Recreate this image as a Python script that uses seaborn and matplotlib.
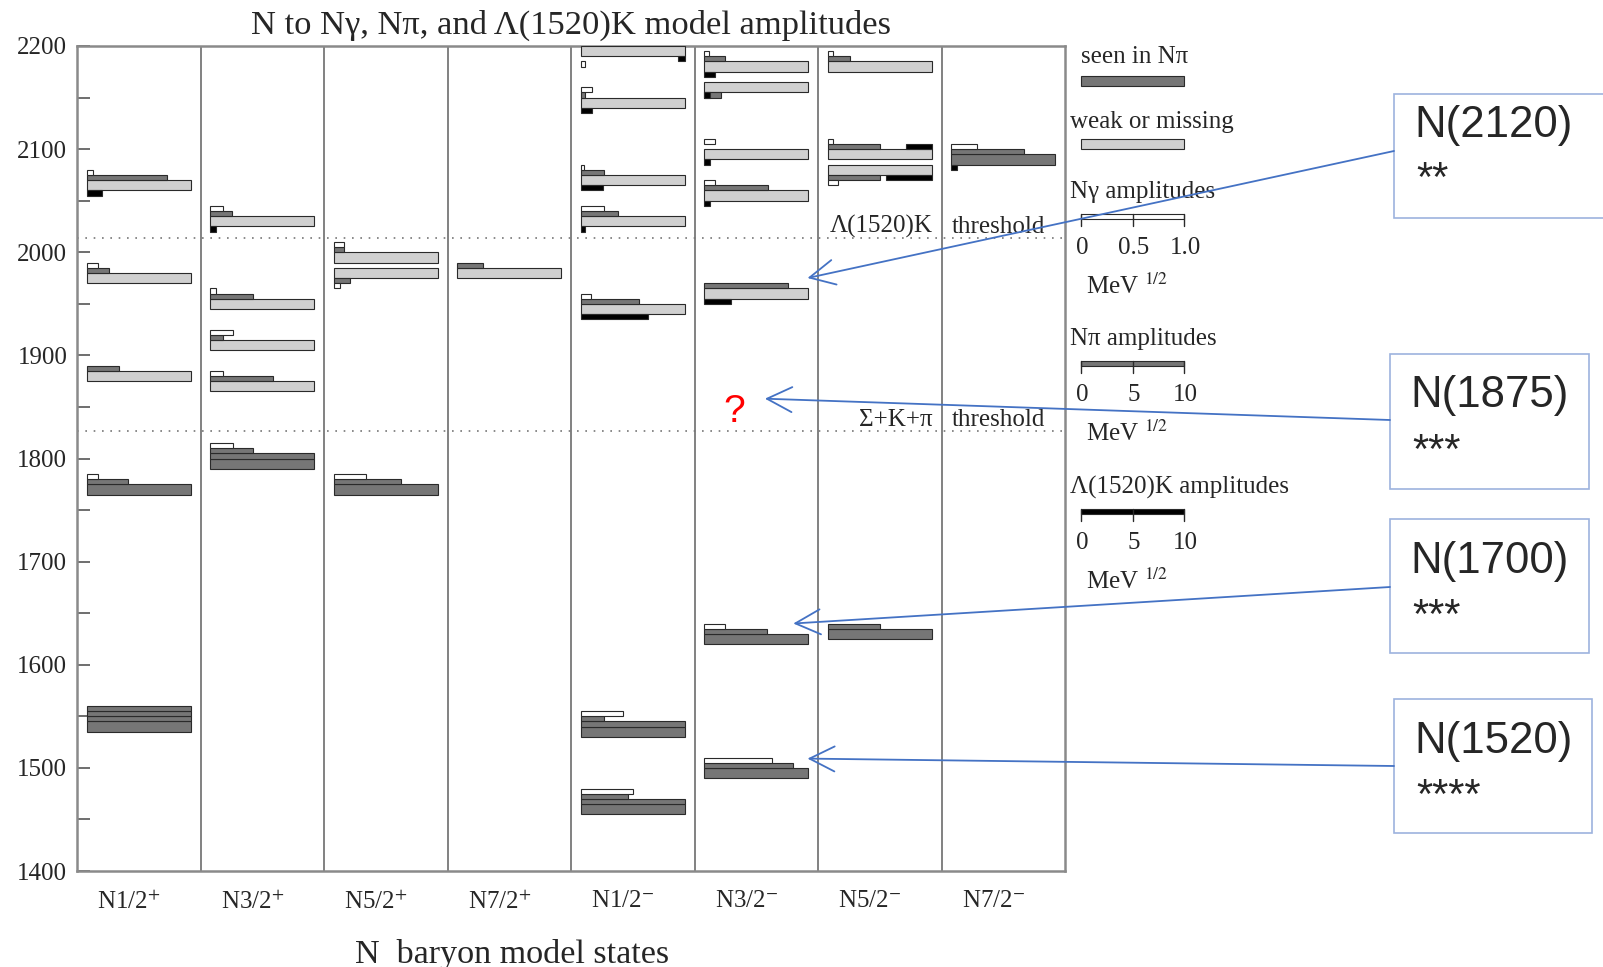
import math
import matplotlib
matplotlib.use("Agg")
import matplotlib.pyplot as plt
import numpy as np
import pandas as pd
import seaborn as sns
from matplotlib.patches import Rectangle

# ---- data -------------------------------------------------------------
columns = ["N1/2$^{+}$", "N3/2$^{+}$", "N5/2$^{+}$", "N7/2$^{+}$",
           "N1/2$^{-}$", "N3/2$^{-}$", "N5/2$^{-}$", "N7/2$^{-}$"]

# model states: column index, mass (MeV), seen in N pi?
state_col = [0, 0, 0, 0, 0,
             1, 1, 1, 1, 1,
             2, 2, 2,
             3,
             4, 4, 4, 4, 4, 4, 4,
             5, 5, 5, 5, 5, 5, 5,
             6, 6, 6, 6,
             7]
state_mass = [1540, 1770, 1880, 1975, 2065,
              1795, 1870, 1910, 1950, 2030,
              1770, 1980, 1995,
              1980,
              1460, 1535, 1945, 2030, 2070, 2145, 2195,
              1495, 1625, 1960, 2055, 2095, 2160, 2180,
              1630, 2080, 2095, 2180,
              2090]
state_seen = [1, 1, 0, 0, 0,
              1, 0, 0, 0, 0,
              1, 0, 0,
              0,
              1, 1, 0, 0, 0, 0, 0,
              1, 1, 0, 0, 0, 0, 0,
              1, 0, 0, 0,
              1]
# amplitudes (MeV^1/2)
amp_ngamma = [0, 0.11, 0, 0.11, 0.06,
              0.22, 0.12, 0.22, 0.055, 0.12,
              0.31, 0.06, 0.10,
              0,
              0.50, 0.41, 0.10, 0.22, 0.03, 0.107, 0.04,
              0.65, 0.20, 0, 0.107, 0.107, 0, 0.04,
              0, 0.10, 0.05, 0.05,
              0.25]
amp_npi = [30, 4.0, 3.1, 2.1, 7.7,
           14.1, 6.0, 1.2, 4.1, 2.1,
           6.5, 1.6, 1.0,
           2.5,
           14.5, 12.2, 5.6, 3.6, 2.2, 0.4, 0,
           8.5, 6.0, 8.1, 6.1, 0, 1.6, 2.0,
           5.0, 5.0, 5.0, 2.1,
           7.0]
amp_lk = [0, 0, 0, 0, 1.5,
          0, 0, 0, 0, 0.55,
          0, 0, 0,
          0,
          0, 0, 6.5, 0.4, 2.1, 1.07, 0.65,
          0, 0, 2.6, 0.5, 0.55, 0.5, 1.07,
          0, 4.4, 2.5, 0,
          0.55]
# where the amplitude bars are stacked (crowded states put them below)
amp_side = ["up"] * 33
for k in (11, 20, 26, 29):
    amp_side[k] = "down"
lk_place = ["below"] * 33
lk_place[20] = "right"
lk_place[26] = "left"
lk_place[29] = "right"
lk_place[30] = "right"

thresholds = [2014, 1827]
threshold_names = ["\u039b(1520)K", "\u03a3+K+\u03c0"]

# annotation boxes (labels) and the model points they refer to
ann_labels = ["N(2120)", "N(1875)", "N(1700)", "N(1520)"]
ann_stars = ["**", "***", "***", "****"]
ann_target_x = [5.915, 5.57, 5.80, 5.915]
ann_target_m = [1975, 1858, 1640, 1509]

# ---- style ------------------------------------------------------------
sns.set_theme(style="white")
plt.rcParams["font.family"] = ["Liberation Serif", "DejaVu Serif"]
plt.rcParams["mathtext.fontset"] = "stix"
SANS = ["Liberation Sans", "DejaVu Sans"]

DARK = "#767676"
LIGHT = "#d0d0d0"
EDGE = "#2a2a2a"
PAD, BAR_W, MAIN_H, ROW_H = 0.08, 0.84, 10, 5

W, H = 1603, 967
fig = plt.figure(figsize=(W / 100, H / 100), dpi=100)
ax = fig.add_axes([77 / W, 1 - 871 / H, (1065 - 77) / W, (871 - 46) / H])

# ---- build bar table --------------------------------------------------
recs = []
for i in range(len(state_mass)):
    m = state_mass[i]
    x0 = state_col[i] + PAD
    recs.append(("seen" if state_seen[i] else "weak", m, x0, BAR_W, MAIN_H))
    d = 1 if amp_side[i] == "up" else -1
    first = m + d * (MAIN_H + ROW_H) / 2
    nrow = max(1, math.ceil(amp_npi[i] / 10))
    for k in range(nrow):
        w = min(10, amp_npi[i] - 10 * k) / 10 * BAR_W
        if w > 0:
            recs.append(("npi", first + d * ROW_H * k, x0, w, ROW_H))
    if amp_lk[i] > 0:
        w = amp_lk[i] / 10 * BAR_W
        if lk_place[i] == "below":
            recs.append(("lk", m - (MAIN_H + ROW_H) / 2, x0, w, ROW_H))
        elif lk_place[i] == "right":
            recs.append(("lk", first, x0 + BAR_W - w, w, ROW_H))
        else:
            recs.append(("lk", first, x0, w, ROW_H))
    if amp_ngamma[i] > 0:
        recs.append(("ngamma", first + d * ROW_H * nrow, x0,
                     amp_ngamma[i] * BAR_W, ROW_H))
bars = pd.DataFrame(recs, columns=["kind", "y", "left", "width", "height"])

colors = {"seen": DARK, "weak": LIGHT, "npi": DARK, "lk": "black", "ngamma": "white"}
for z, kind in enumerate(["seen", "weak", "npi", "lk", "ngamma"]):
    sub = bars[bars.kind == kind]
    ax.barh(sub.y, sub.width, left=sub.left, height=sub.height,
            color=colors[kind], edgecolor=EDGE, linewidth=0.8, zorder=3 + z * 0.1)

# ---- axes ---------------------------------------------------------------
ax.set_xlim(0, 8)
ax.set_ylim(1400, 2200)
for c in range(1, 8):
    ax.axvline(c, color="#777777", lw=1.3, zorder=1)
for t, name in zip(thresholds, threshold_names):
    ax.axhline(t, color="#777777", lw=1.2, ls=(0, (1, 4)), zorder=1)
    ax.text(6.93, t + 5, name, ha="right", va="baseline", fontsize=18, zorder=5)
    ax.text(7.08, t + 5, "threshold", ha="left", va="baseline", fontsize=18, zorder=5)

ax.set_yticks(np.arange(1400, 2201, 100))
ax.set_yticks(np.arange(1450, 2200, 100), minor=True)
ax.tick_params(axis="y", which="both", left=True, direction="in", length=9,
               width=1.2, color="#555555", pad=7, labelsize=18)
ax.set_xticks(np.arange(8) + 0.42)
ax.set_xticklabels(columns)
ax.tick_params(axis="x", length=0, pad=14, labelsize=18)
for s in ax.spines.values():
    s.set_color("#8a8a8a")
    s.set_linewidth(1.8)

ax.text(5.32, 1845, "?", color="red", fontsize=28, ha="center", va="center",
        family=SANS)

fig.text(571 / W, 1 - 25 / H, "N to N\u03b3, N\u03c0, and \u039b(1520)K model amplitudes",
         ha="center", va="center", fontsize=24.8)
fig.text(512 / W, 1 - 954 / H, "N  baryon model states", ha="center", va="center",
         fontsize=24.6)

# ---- overlay: key and annotations ------------------------------------------
ov = fig.add_axes([0, 0, 1, 1], zorder=10)
ov.set_xlim(0, W)
ov.set_ylim(H, 0)
ov.axis("off")
ov.patch.set_alpha(0)

KX, KW = 1081, 103
ov.text(1081, 57, "seen in N\u03c0", va="center", fontsize=18)
ov.add_patch(Rectangle((KX, 76), KW, 10, fc=DARK, ec=EDGE, lw=0.8))
ov.text(1070, 122, "weak or missing", va="center", fontsize=18)
ov.add_patch(Rectangle((KX, 139), KW, 10, fc=LIGHT, ec=EDGE, lw=0.8))

scales = [("N\u03b3 amplitudes", "white", ["0", "0.5", "1.0"], 192),
          ("N\u03c0 amplitudes", DARK, ["0", "5", "10"], 339),
          ("\u039b(1520)K amplitudes", "black", ["0", "5", "10"], 487)]
for name, fc, labs, ty in scales:
    ov.text(1070, ty, name, va="center", fontsize=18)
    by = ty + 22
    ov.add_patch(Rectangle((KX, by), KW, 5, fc=fc, ec=EDGE, lw=0.8))
    for j, lab in enumerate(labs):
        tx = KX + j * KW / 2
        ov.plot([tx, tx], [by, by + 12], color=EDGE, lw=1)
        ov.text(tx + 1.5, by + 34, lab, ha="center", va="center", fontsize=18)
    ov.text(1086, by + 72, "MeV $^{1/2}$", ha="left", va="center", fontsize=18)

box_x = [1394, 1390, 1390, 1394]
box_y = [94, 354, 519, 699]
box_w = [230, 199, 199, 198]
box_h = [124, 135, 134, 134]
lab_dy = [32, 42, 42, 42]
star_dy = [86, 98, 98, 98]
arrow_y = [151, 420, 587, 766]
for k in range(4):
    ov.add_patch(Rectangle((box_x[k], box_y[k]), box_w[k], box_h[k], fc="white",
                           ec="#9DB3DE", lw=1.2))
    ov.text(box_x[k] + 20, box_y[k] + lab_dy[k], ann_labels[k], ha="left",
            va="center", fontsize=31.5, family=SANS)
    ov.text(box_x[k] + 22, box_y[k] + star_dy[k], ann_stars[k], ha="left",
            va="center", fontsize=30, family=SANS)
    ov.annotate("", xy=(ann_target_x[k], ann_target_m[k]), xycoords=ax.transData,
                xytext=(box_x[k], arrow_y[k]), textcoords="data",
                arrowprops=dict(arrowstyle="->,head_length=0.9,head_width=0.45",
                                color="#4472C4", lw=1.3, mutation_scale=20,
                                shrinkA=0, shrinkB=0))

fig.savefig("out.png", dpi=100)
